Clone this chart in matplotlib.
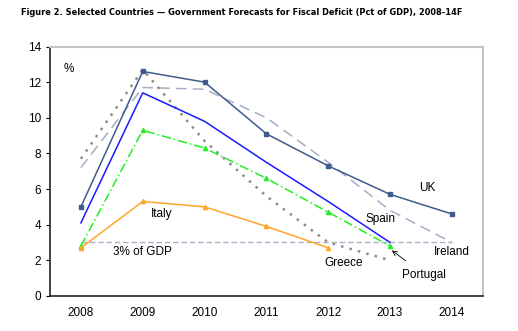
import matplotlib
matplotlib.use('Agg')
import matplotlib.pyplot as plt

# Dados (% do PIB)
anos = [2008, 2009, 2010, 2011, 2012, 2013, 2014]
uk = [5.0, 12.6, 12.0, 9.1, 7.3, 5.7, 4.6]
ireland = [7.2, 11.7, 11.6, 10.0, 7.5, 4.8, 3.0]
spain = [4.1, 11.4, 9.8, 7.5, 5.3, 3.0]
portugal = [2.8, 9.3, 8.3, 6.6, 4.7, 2.8]
greece = [7.7, 12.7, 8.7, 5.6, 3.0, 2.0]
italy = [2.7, 5.3, 5.0, 3.9, 2.7]
limite = 3.0

plt.rcParams['font.family'] = ['Liberation Sans', 'DejaVu Sans']

fig = plt.figure(figsize=(5.18, 3.31), dpi=100)
ax = fig.add_axes([0.0965, 0.106, 0.8355, 0.7535])

ax.plot([anos[0], anos[-1]], [limite, limite], color='#a9b3c8', lw=1, ls=(0, (4, 2)))
ax.plot(anos, ireland, color='#a3afc6', lw=1.1, ls=(0, (7, 4)))
ax.plot(anos[:6], greece, color='#8c8c8c', lw=1.8, ls=(0, (1, 2.5)))
ax.plot(anos, uk, color='#3f5b8c', lw=1.1, marker='s', ms=3)
ax.plot(anos[:6], spain, color='#1a1aff', lw=1.1)
ax.plot(anos[:6], portugal, color='#22ee22', lw=1.1, ls=(0, (6, 2, 1, 2)),
        marker='^', ms=3)
ax.plot(anos[:5], italy, color='#ffa52a', lw=1.1, marker='^', ms=3)

ax.set_xlim(2007.5, 2014.5)
ax.set_ylim(0, 14)
ax.set_yticks(range(0, 15, 2))
ax.set_xticks(anos)
ax.tick_params(axis='x', length=0, labelsize=8.5, pad=8)
ax.tick_params(axis='y', length=3, labelsize=8.5, direction='out')
for s in ['top', 'right']:
    ax.spines[s].set_color('#c4c4c4')
    ax.spines[s].set_linewidth(1.5)
for s in ['left', 'bottom']:
    ax.spines[s].set_color('#222222')
    ax.spines[s].set_linewidth(1.2)

kw = dict(fontsize=8.5, ha='center', va='center')
ax.text(2007.8, 12.75, '%', **kw)
ax.text(2009.3, 4.6, 'Italy', **kw)
ax.text(2009.0, 2.45, '3% of GDP', **kw)
ax.text(2013.6, 6.05, 'UK', **kw)
ax.text(2012.85, 4.3, 'Spain', **kw)
ax.text(2014.0, 2.45, 'Ireland', **kw)
ax.text(2012.25, 1.85, 'Greece', **kw)
ax.annotate('Portugal', xy=(2013.03, 2.55), xytext=(2013.55, 1.2),
            fontsize=8.5, ha='center', va='center',
            arrowprops=dict(arrowstyle='->', color='black', lw=0.6,
                            shrinkA=6, shrinkB=0))

fig.text(0.04, 0.963,
         'Figure 2. Selected Countries \u2014 Government Forecasts for Fiscal Deficit (Pct of GDP), 2008-14F',
         fontsize=6.6, fontweight='bold', family='DejaVu Sans', fontstretch='condensed',
         ha='left', va='center')

fig.savefig('out.png', dpi=100)
